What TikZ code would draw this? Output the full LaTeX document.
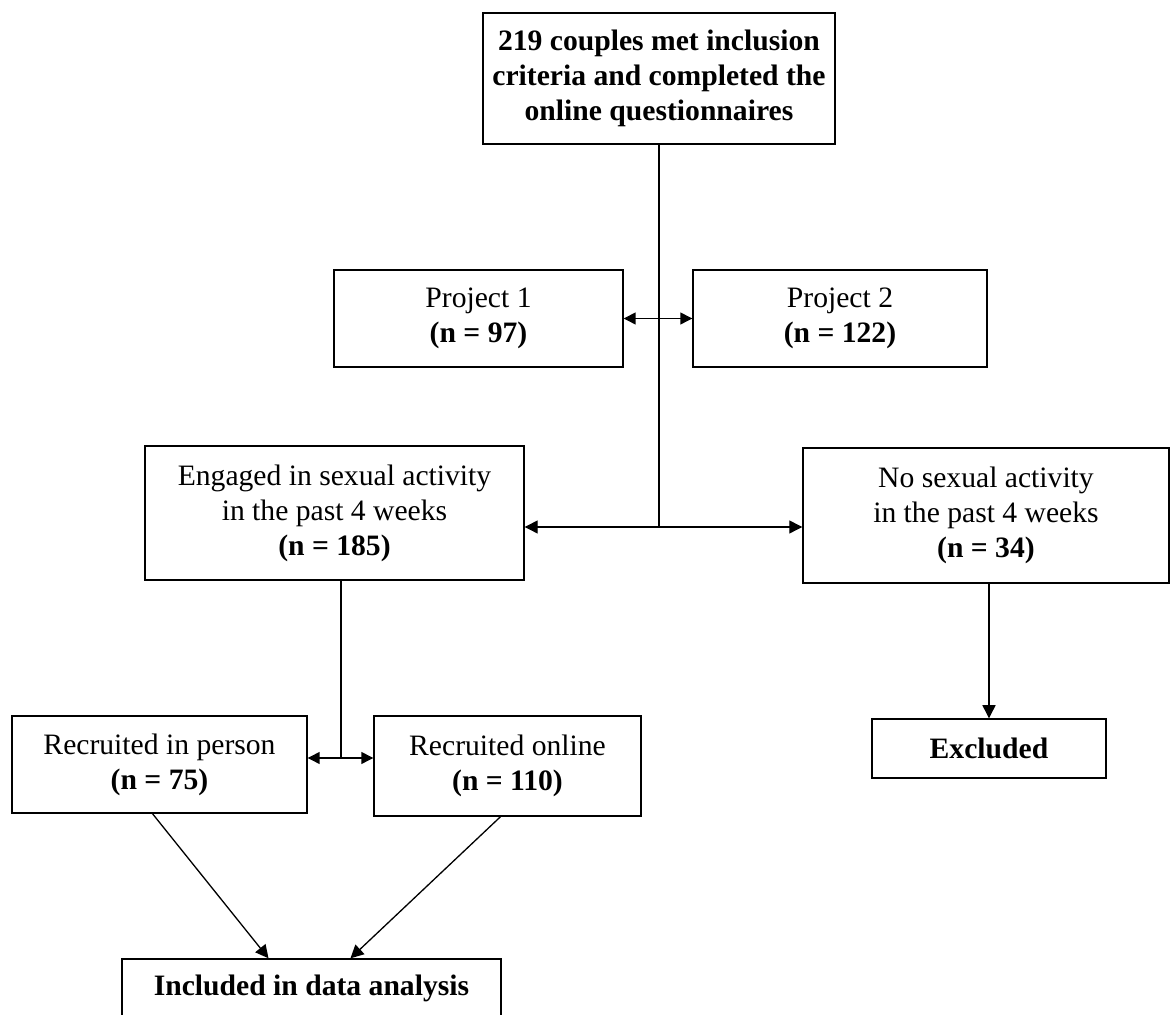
\documentclass[tikz,border=0pt]{standalone}
\usepackage{fontspec}
\setmainfont{Liberation Serif}
\usepackage{tikz}
\usetikzlibrary{arrows.meta, positioning, calc}
\newdimen\pxu \pxu=0.4219pt
\tikzstyle{arrow} = [-{Triangle[length=5.5pt,width=5.5pt]}]
\tikzstyle{twoway} = [{Triangle[length=5pt,width=5pt]}-{Triangle[length=5pt,width=5pt]}]

\begin{document}
\begin{tikzpicture}[
    x=\pxu, y=-\pxu,
    every node/.style={font=\fontsize{12.5}{14.8}\selectfont, align=center},
    block/.style={rectangle, draw=black, line width=0.6pt, inner sep=0pt, fill=white},
    size/.style 2 args={minimum width=#1*\pxu, minimum height=#2*\pxu},
    line/.style={draw, line width=0.55pt}
]
    \useasboundingbox (0,0) rectangle (1171,1015);

    % Top level
    \node[block, size={352}{131}] (criteria) at (659,78.5) {\textbf{219 couples met inclusion}\\ \textbf{criteria and completed the}\\ \textbf{online questionnaires}};
    \node[block, size={289}{97}] (proj1) at (478.5,318.5) {Project 1\\ \textbf{(n = 97)}};
    \node[block, size={294}{97}] (proj2) at (840,318.5) {Project 2\\ \textbf{(n = 122)}};

    % Sexual activity
    \node[block, size={379}{134}] (engaged) at (334.5,513) {Engaged in sexual activity\\ in the past 4 weeks\\ \textbf{(n = 185)}};
    \node[block, size={366}{135}] (nosex) at (986,515.5) {No sexual activity\\ in the past 4 weeks\\ \textbf{(n = 34)}};

    % Recruitment
    \node[block, size={295}{97}] (person) at (159.5,764.5) {Recruited in person\\ \textbf{(n = 75)}};
    \node[block, size={267}{100}] (online) at (507.5,766) {Recruited online\\ \textbf{(n = 110)}};
    \node[block, size={234}{59}] (excluded) at (989,748.5) {\textbf{Excluded}};
    \node[block, size={379}{59}] (included) at (311.5,988.5) {\textbf{Included in data analysis}};

    \coordinate (split) at (659,527);
    \coordinate (split2) at (341,758);

    % Connections
    \path[line] (criteria) -- (split);
    \path[line, twoway] (proj1) -- (proj2);
    \path[line, arrow] (split) -- (split -| engaged.east);
    \path[line, arrow] (split) -- (split -| nosex.west);
    \path[line] (split2 |- engaged.south) -- (split2);
    \path[line, twoway] (split2 -| person.east) -- (split2 -| online.west);
    \path[line, arrow] (excluded.north |- nosex.south) -- (excluded.north);
    \path[line, arrow] ([xshift=-7*\pxu]person.south) -- ([xshift=-43*\pxu]included.north);
    \path[line, arrow] ([xshift=-7*\pxu]online.south) -- ([xshift=39*\pxu]included.north);
\end{tikzpicture}
\end{document}
